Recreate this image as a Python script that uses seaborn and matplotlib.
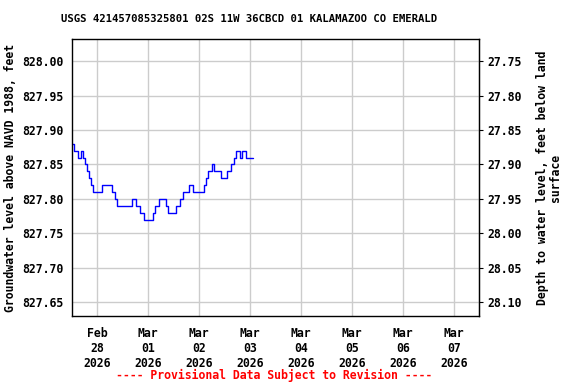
import numpy as np
import pandas as pd
import matplotlib
matplotlib.use("Agg")
import matplotlib.pyplot as plt
import matplotlib.dates as mdates
import seaborn as sns

# Hourly readings starting Feb 27 2026 12:15
start = "2026-02-27 12:15"
levels = [827.88, 827.87, 827.87, 827.86, 827.87, 827.86, 827.85, 827.84, 827.83, 827.82,
          827.81, 827.81, 827.81, 827.81, 827.82, 827.82, 827.82, 827.82, 827.82, 827.81,
          827.80, 827.79, 827.79, 827.79, 827.79, 827.79, 827.79, 827.79, 827.80, 827.80,
          827.79, 827.79, 827.78, 827.78, 827.77, 827.77, 827.77, 827.77, 827.78, 827.79,
          827.79, 827.80, 827.80, 827.80, 827.79, 827.78, 827.78, 827.78, 827.78, 827.79,
          827.79, 827.80, 827.81, 827.81, 827.81, 827.82, 827.82, 827.81, 827.81, 827.81,
          827.81, 827.81, 827.82, 827.83, 827.84, 827.84, 827.85, 827.84, 827.84, 827.84,
          827.83, 827.83, 827.83, 827.84, 827.84, 827.85, 827.86, 827.87, 827.87, 827.86,
          827.87, 827.87, 827.86, 827.86, 827.86, 827.86]
left_ticks = [827.65, 827.70, 827.75, 827.80, 827.85, 827.90, 827.95, 828.00]
right_ticks = [27.75, 27.80, 27.85, 27.90, 27.95, 28.00, 28.05, 28.10]
day_ticks = ["2026-02-28", "2026-03-01", "2026-03-02", "2026-03-03",
             "2026-03-04", "2026-03-05", "2026-03-06", "2026-03-07"]
land_surface = 855.75  # level + depth

df = pd.DataFrame({
    "time": pd.date_range(start, periods=len(levels), freq="h"),
    "level": levels,
})

sns.set_style("white")
plt.rcParams["font.family"] = ["DejaVu Sans Mono"]
plt.rcParams["font.weight"] = "bold"
plt.rcParams["text.color"] = "black"
plt.rcParams["axes.labelcolor"] = "black"
plt.rcParams["xtick.color"] = "black"
plt.rcParams["ytick.color"] = "black"

fig = plt.figure(figsize=(5.76, 3.84), dpi=100)
ax = fig.add_axes([0.125, 0.177, 0.7066, 0.7214])

sns.lineplot(data=df, x="time", y="level", ax=ax, color="#0000ff", linewidth=1,
             drawstyle="steps-post")

ax.set_xlim(pd.Timestamp(start), pd.Timestamp("2026-03-07 11:45"))
ax.set_ylim(827.63, 828.032)

ax.set_yticks(left_ticks)
ax.set_yticklabels([f"{v:.2f}" for v in left_ticks], fontsize=8.3, fontweight="bold")
xt = pd.to_datetime(day_ticks)
ax.set_xticks(xt)
ax.set_xticklabels([d.strftime("%b\n%d\n%Y") for d in xt], fontsize=8.3, fontweight="bold")

ax.grid(True, color="#cccccc", linewidth=1)
ax.set_axisbelow(True)
for s in ax.spines.values():
    s.set_color("black")
    s.set_linewidth(1)
ax.tick_params(axis="y", direction="in", length=3, pad=6)
ax.tick_params(axis="x", length=0, pad=8)

ax.set_xlabel("")
ax.set_ylabel("Groundwater level above NAVD 1988, feet", fontsize=8.3, fontweight="bold")

sec = ax.secondary_yaxis("right", functions=(lambda v: land_surface - v,
                                             lambda d: land_surface - d))
sec.set_yticks(right_ticks)
sec.set_yticklabels([f"{v:.2f}" for v in right_ticks], fontsize=8.3, fontweight="bold")
sec.tick_params(direction="out", length=3, pad=3)
sec.set_ylabel("Depth to water level, feet below land\nsurface", fontsize=8.3,
               fontweight="bold", linespacing=1.0, labelpad=10)

fig.text(0.433, 0.951, "USGS 421457085325801 02S 11W 36CBCD 01 KALAMAZOO CO EMERALD",
         ha="center", va="center", fontsize=7.7, fontweight="bold")
fig.text(0.476, 0.022, "---- Provisional Data Subject to Revision ----",
         ha="center", va="center", fontsize=8.3, fontweight="bold", color="red")

fig.savefig("out.png", dpi=100)
